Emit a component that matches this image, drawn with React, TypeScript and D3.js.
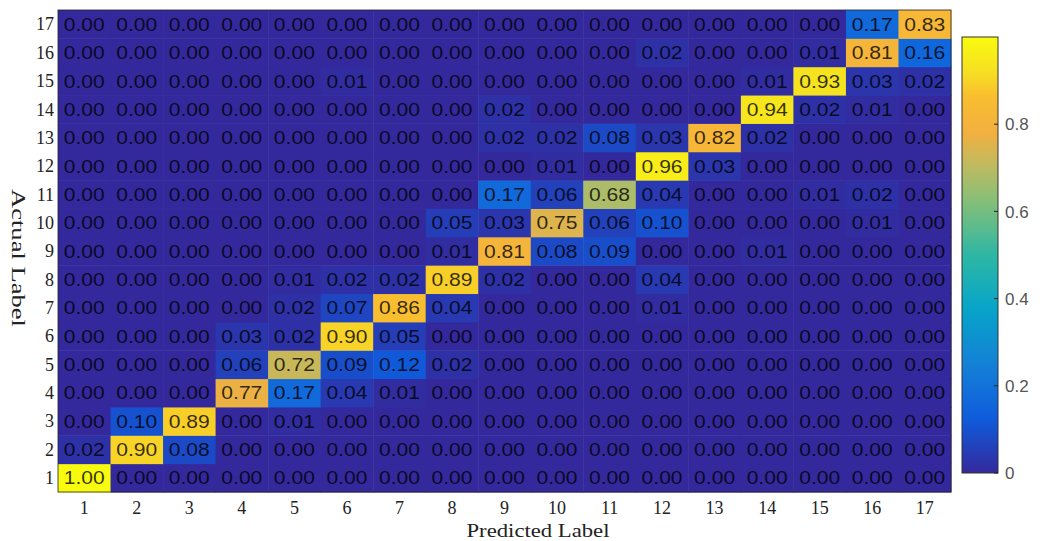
import React from "react";
import * as d3 from "d3";

const labels = ["1","2","3","4","5","6","7","8","9","10","11","12","13","14","15","16","17"];

// rows: actual label 1..17, columns: predicted label 1..17
const row1 = [1.00,0,0,0,0,0,0,0,0,0,0,0,0,0,0,0,0];
const row2 = [0.02,0.90,0.08,0,0,0,0,0,0,0,0,0,0,0,0,0,0];
const row3 = [0,0.10,0.89,0,0.01,0,0,0,0,0,0,0,0,0,0,0,0];
const row4 = [0,0,0,0.77,0.17,0.04,0.01,0,0,0,0,0,0,0,0,0,0];
const row5 = [0,0,0,0.06,0.72,0.09,0.12,0.02,0,0,0,0,0,0,0,0,0];
const row6 = [0,0,0,0.03,0.02,0.90,0.05,0,0,0,0,0,0,0,0,0,0];
const row7 = [0,0,0,0,0.02,0.07,0.86,0.04,0,0,0,0.01,0,0,0,0,0];
const row8 = [0,0,0,0,0.01,0.02,0.02,0.89,0.02,0,0,0.04,0,0,0,0,0];
const row9 = [0,0,0,0,0,0,0,0.01,0.81,0.08,0.09,0,0,0.01,0,0,0];
const row10 = [0,0,0,0,0,0,0,0.05,0.03,0.75,0.06,0.10,0,0,0,0.01,0];
const row11 = [0,0,0,0,0,0,0,0,0.17,0.06,0.68,0.04,0,0,0.01,0.02,0];
const row12 = [0,0,0,0,0,0,0,0,0,0.01,0,0.96,0.03,0,0,0,0];
const row13 = [0,0,0,0,0,0,0,0,0.02,0.02,0.08,0.03,0.82,0.02,0,0,0];
const row14 = [0,0,0,0,0,0,0,0,0.02,0,0,0,0,0.94,0.02,0.01,0];
const row15 = [0,0,0,0,0,0.01,0,0,0,0,0,0,0,0.01,0.93,0.03,0.02];
const row16 = [0,0,0,0,0,0,0,0,0,0,0,0.02,0,0,0.01,0.81,0.16];
const row17 = [0,0,0,0,0,0,0,0,0,0,0,0,0,0,0,0.17,0.83];
const matrix = [row1,row2,row3,row4,row5,row6,row7,row8,row9,row10,row11,row12,row13,row14,row15,row16,row17];

const colorbarTicks = [0, 0.2, 0.4, 0.6, 0.8];

const cmapPositions = [0, 0.125, 0.25, 0.375, 0.5, 0.625, 0.70, 0.78, 0.86, 0.92, 1.0];
const cmapColors = ["#34299c","#0f5cdd","#1481d6","#06a4ca","#2eb7a4","#87bf77","#bbbb62","#f2b040","#f9bd30","#f6df22","#f9fb0e"];

export default function App() {
  const W = 1040, H = 541;
  const left = 58, right = 951, top = 10, bottom = 492;
  const x = d3.scaleBand<string>().domain(labels).range([left, right]).padding(0);
  const y = d3.scaleBand<string>().domain(labels.slice().reverse()).range([top, bottom]).padding(0);
  const color = d3.scaleLinear<string>().domain(cmapPositions).range(cmapColors).interpolate(d3.interpolateRgb).clamp(true);

  const cbLeft = 962, cbRight = 998, cbTop = 37, cbBottom = 473;
  const cy = d3.scaleLinear().domain([0, 1]).range([cbBottom, cbTop]);
  const gradStops = d3.range(0, 1.0001, 0.02);

  const cells: React.ReactNode[] = [];
  matrix.forEach((row, i) => {
    row.forEach((v, j) => {
      const xl = x(labels[j])!;
      const yt = y(labels[i])!;
      cells.push(
        <rect key={`r${i}-${j}`} x={xl} y={yt} width={x.bandwidth() + 0.5} height={y.bandwidth() + 0.5} fill={color(v)} />
      );
      cells.push(
        <text key={`t${i}-${j}`} x={xl + x.bandwidth() / 2} y={yt + y.bandwidth() / 2} dy="0.36em"
          textAnchor="middle" fontFamily="'Liberation Sans', Arial, sans-serif" fontSize={18.5}
          textLength={41} lengthAdjust="spacingAndGlyphs" fill="#000" fillOpacity={0.8}>
          {v.toFixed(2)}
        </text>
      );
    });
  });

  return (
    <svg width={W} height={H} style={{ display: "block", position: "absolute", left: 0, top: 0 }}>
      <rect width={W} height={H} fill="#fff" />
      <defs>
        <linearGradient id="cb" x1="0" y1="1" x2="0" y2="0">
          {gradStops.map((t) => (
            <stop key={t} offset={`${t * 100}%`} stopColor={color(t)} />
          ))}
        </linearGradient>
      </defs>
      {cells}
      <rect x={left} y={top} width={right - left} height={bottom - top} fill="none" stroke="#222" strokeWidth={0.8} />
      {labels.map((l) => (
        <text key={`xl${l}`} x={x(l)! + x.bandwidth() / 2} y={514} textAnchor="middle"
          fontFamily="'Liberation Serif', 'DejaVu Serif', serif" fontSize={18} fill="#222">{l}</text>
      ))}
      {labels.map((l) => (
        <text key={`yl${l}`} x={54} y={y(l)! + y.bandwidth() / 2} dy="0.35em" textAnchor="end"
          fontFamily="'Liberation Serif', 'DejaVu Serif', serif" fontSize={18} fill="#222">{l}</text>
      ))}
      <text x={538} y={537} textAnchor="middle" fontFamily="'Liberation Serif', 'DejaVu Serif', serif"
        fontSize={19} fill="#222" textLength={143} lengthAdjust="spacingAndGlyphs">Predicted Label</text>
      <text transform={`translate(12, 258) rotate(90)`} textAnchor="middle"
        fontFamily="'Liberation Serif', 'DejaVu Serif', serif" fontSize={19} fill="#222"
        textLength={138} lengthAdjust="spacingAndGlyphs">Actual Label</text>
      <rect x={cbLeft} y={cbTop} width={cbRight - cbLeft} height={cbBottom - cbTop} fill="url(#cb)" stroke="#333" strokeWidth={1} />
      {colorbarTicks.map((t) => (
        <g key={`cb${t}`}>
          <line x1={cbRight - 4} x2={cbRight} y1={cy(t)} y2={cy(t)} stroke="#222" strokeWidth={1} />
          <text x={1005} y={cy(t)} dy="0.36em" fontFamily="'Liberation Sans', Arial, sans-serif"
            fontSize={17} fill="#555">{String(t)}</text>
        </g>
      ))}
    </svg>
  );
}
